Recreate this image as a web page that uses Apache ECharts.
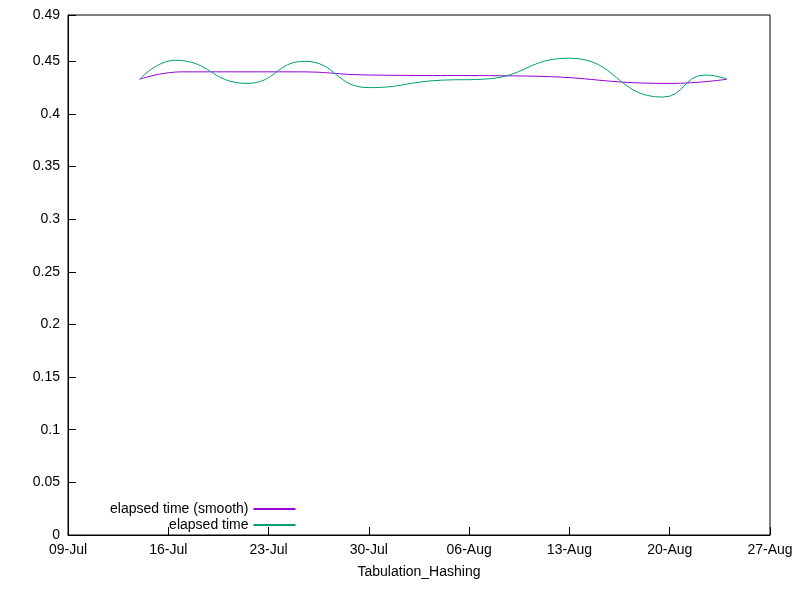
<!DOCTYPE html>
<html>
<head>
<meta charset="utf-8">
<script src="https://cdn.jsdelivr.net/npm/echarts@6/dist/echarts.min.js"></script>
<style>body{margin:0}#c{width:800px;height:600px}</style>
</head>
<body>
<div id="c"></div>
<script>
// days counted from 09-Jul
const tickLabels = ['09-Jul', '16-Jul', '23-Jul', '30-Jul', '06-Aug', '13-Aug', '20-Aug', '27-Aug'];
const rawDays = [5, 7.5, 12.5, 16.5, 21, 26, 29, 35, 41.5, 44.5, 46];
const rawValues = [0.433, 0.451, 0.429, 0.450, 0.425, 0.432, 0.433, 0.453, 0.416, 0.437, 0.433];
const smoothDays = [5, 8, 16, 21, 32, 42, 46];
const smoothValues = [0.433, 0.440, 0.440, 0.437, 0.436, 0.429, 0.433];

const chart = echarts.init(document.getElementById('c'));
const font = { fontFamily: 'Liberation Sans, Arial', fontSize: 14, color: '#000' };
const axisCommon = {
  axisLine: { lineStyle: { color: '#000' } },
  axisTick: { inside: true, length: 8, lineStyle: { color: '#000' } },
  splitLine: { show: false },
  axisLabel: Object.assign({}, font)
};
chart.setOption({
  animation: false,
  grid: { left: 68, right: 30, top: 15, bottom: 65, show: true, borderColor: '#000', borderWidth: 1 },
  legend: {
    orient: 'vertical', left: 105, top: 497, align: 'right', itemGap: 2,
    itemWidth: 42, itemHeight: 2, icon: 'rect',
    textStyle: Object.assign({}, font),
    data: ['elapsed time (smooth)', 'elapsed time']
  },
  xAxis: Object.assign({}, axisCommon, {
    type: 'value', min: 0, max: 49, interval: 7,
    name: 'Tabulation_Hashing', nameLocation: 'middle', nameGap: 30,
    nameTextStyle: Object.assign({}, font),
    axisLabel: Object.assign({}, font, { formatter: v => tickLabels[Math.round(v / 7)] })
  }),
  yAxis: Object.assign({}, axisCommon, {
    type: 'value', min: 0, max: 0.494, interval: 0.05,
    axisLabel: Object.assign({}, font, { formatter: v => (Math.round(v * 100) / 100).toString() })
  }),
  series: [
    { name: 'elapsed time (smooth)', type: 'line', smooth: true, showSymbol: false,
      color: '#9400d3', lineStyle: { width: 1 },
      data: smoothDays.map((d, i) => [d, smoothValues[i]]) },
    { name: 'elapsed time', type: 'line', smooth: 0.5, showSymbol: false,
      color: '#009e73', lineStyle: { width: 1 },
      data: rawDays.map((d, i) => [d, rawValues[i]]) }
  ]
});
</script>
</body>
</html>
